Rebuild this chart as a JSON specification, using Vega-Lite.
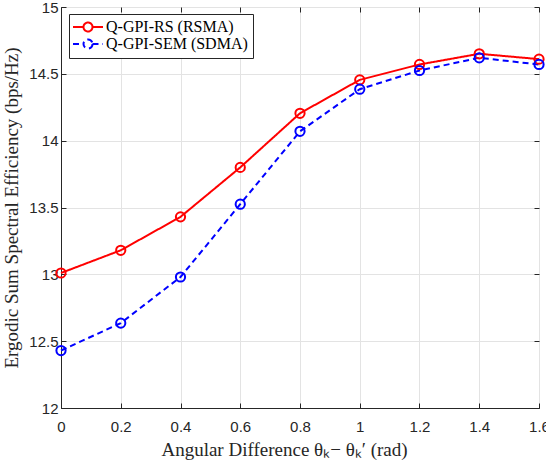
{
  "$schema": "https://vega.github.io/schema/vega-lite/v6.json",
  "autosize": "none",
  "width": 478,
  "height": 401,
  "padding": {"left": 61, "top": 7, "right": 7, "bottom": 54},
  "background": "white",
  "config": {
    "view": {"stroke": "#262626", "strokeWidth": 1},
    "axis": {
      "domainColor": "#262626",
      "tickColor": "#262626",
      "labelColor": "#262626",
      "labelFont": "Liberation Sans",
      "labelFontSize": 15,
      "titleFont": "Liberation Serif",
      "titleFontSize": 19,
      "titleFontWeight": "normal",
      "titleColor": "#262626",
      "gridColor": "#e3e3e3",
      "gridWidth": 1
    },
    "legend": {
      "labelFont": "Liberation Serif",
      "labelFontSize": 16,
      "labelColor": "#000000"
    }
  },
  "data": {
    "values": [
      {"x": 0, "y": 13.01, "s": "Q-GPI-RS (RSMA)"},
      {"x": 0.2, "y": 13.18, "s": "Q-GPI-RS (RSMA)"},
      {"x": 0.4, "y": 13.43, "s": "Q-GPI-RS (RSMA)"},
      {"x": 0.6, "y": 13.80, "s": "Q-GPI-RS (RSMA)"},
      {"x": 0.8, "y": 14.205, "s": "Q-GPI-RS (RSMA)"},
      {"x": 1.0, "y": 14.455, "s": "Q-GPI-RS (RSMA)"},
      {"x": 1.2, "y": 14.57, "s": "Q-GPI-RS (RSMA)"},
      {"x": 1.4, "y": 14.65, "s": "Q-GPI-RS (RSMA)"},
      {"x": 1.6, "y": 14.61, "s": "Q-GPI-RS (RSMA)"},
      {"x": 0, "y": 12.43, "s": "Q-GPI-SEM (SDMA)"},
      {"x": 0.2, "y": 12.635, "s": "Q-GPI-SEM (SDMA)"},
      {"x": 0.4, "y": 12.98, "s": "Q-GPI-SEM (SDMA)"},
      {"x": 0.6, "y": 13.525, "s": "Q-GPI-SEM (SDMA)"},
      {"x": 0.8, "y": 14.07, "s": "Q-GPI-SEM (SDMA)"},
      {"x": 1.0, "y": 14.385, "s": "Q-GPI-SEM (SDMA)"},
      {"x": 1.2, "y": 14.525, "s": "Q-GPI-SEM (SDMA)"},
      {"x": 1.4, "y": 14.62, "s": "Q-GPI-SEM (SDMA)"},
      {"x": 1.6, "y": 14.57, "s": "Q-GPI-SEM (SDMA)"}
    ]
  },
  "resolve": {"scale": {"x": "independent", "y": "independent"}},
  "layer": [
    {
      "layer": [
        {
          "mark": {"type": "line", "strokeWidth": 2},
          "encoding": {
            "x": {
              "field": "x", "type": "quantitative",
              "scale": {"domain": [0, 1.6], "nice": false, "zero": false},
              "axis": {
                "title": "Angular Difference θₖ− θₖ′ (rad)",
                "values": [0, 0.2, 0.4, 0.6, 0.8, 1, 1.2, 1.4, 1.6],
                "format": "~g",
                "tickSize": -5, "labelPadding": 16, "titlePadding": 6,
                "titleX": 223,
                "labelFlush": false
              }
            },
            "y": {
              "field": "y", "type": "quantitative",
              "scale": {"domain": [12, 15], "nice": false, "zero": false},
              "axis": {
                "title": "Ergodic Sum Spectral Efficiency (bps/Hz)",
                "values": [12, 12.5, 13, 13.5, 14, 14.5, 15],
                "format": "~g",
                "tickSize": -5, "labelPadding": 8, "titlePadding": 7,
                "labelFlush": false
              }
            },
            "color": {
              "field": "s", "type": "nominal",
              "scale": {"domain": ["Q-GPI-RS (RSMA)", "Q-GPI-SEM (SDMA)"], "range": ["#ff0000", "#0000ff"]},
              "legend": {
                "title": null,
                "orient": "none",
                "legendX": 8,
                "legendY": 7,
                "fillColor": "white",
                "strokeColor": "#262626",
                "padding": 5,
                "symbolOffset": 6,
                "labelOffset": 10,
                "rowPadding": -8,
                "symbolType": "M-2.143,0L-0.643,0M0.643,0L2.143,0M0.643,0A0.643,0.643,0,1,1,-0.643,0A0.643,0.643,0,1,1,0.643,0",
                "symbolSize": 196,
                "symbolStrokeWidth": 2,
                "symbolFillColor": "transparent"
              }
            },
            "strokeDash": {
              "field": "s", "type": "nominal",
              "scale": {"domain": ["Q-GPI-RS (RSMA)", "Q-GPI-SEM (SDMA)"], "range": [[1, 0], [6, 4]]},
              "legend": {
                "title": null,
                "orient": "none",
                "legendX": 8,
                "legendY": 7,
                "fillColor": "white",
                "strokeColor": "#262626",
                "padding": 5,
                "symbolOffset": 6,
                "labelOffset": 10,
                "rowPadding": -8,
                "symbolType": "M-2.143,0L-0.643,0M0.643,0L2.143,0M0.643,0A0.643,0.643,0,1,1,-0.643,0A0.643,0.643,0,1,1,0.643,0",
                "symbolSize": 196,
                "symbolStrokeWidth": 2,
                "symbolFillColor": "transparent"
              }
            }
          }
        },
        {
          "mark": {"type": "point", "shape": "circle", "filled": false, "size": 85, "strokeWidth": 2, "opacity": 1},
          "encoding": {
            "x": {"field": "x", "type": "quantitative"},
            "y": {"field": "y", "type": "quantitative"},
            "color": {"field": "s", "type": "nominal", "legend": null}
          }
        }
      ]
    },
    {
      "mark": {"type": "point", "opacity": 0},
      "encoding": {
        "x": {"field": "x", "type": "quantitative", "scale": {"domain": [0, 1.6], "nice": false, "zero": false}, "axis": {"orient": "top", "labels": false, "grid": false, "domain": false, "tickSize": -5, "title": null, "values": [0, 0.2, 0.4, 0.6, 0.8, 1, 1.2, 1.4, 1.6]}},
        "y": {"field": "y", "type": "quantitative", "scale": {"domain": [12, 15], "nice": false, "zero": false}, "axis": {"orient": "right", "labels": false, "grid": false, "domain": false, "tickSize": -5, "title": null, "values": [12, 12.5, 13, 13.5, 14, 14.5, 15]}}
      }
    }
  ]
}
